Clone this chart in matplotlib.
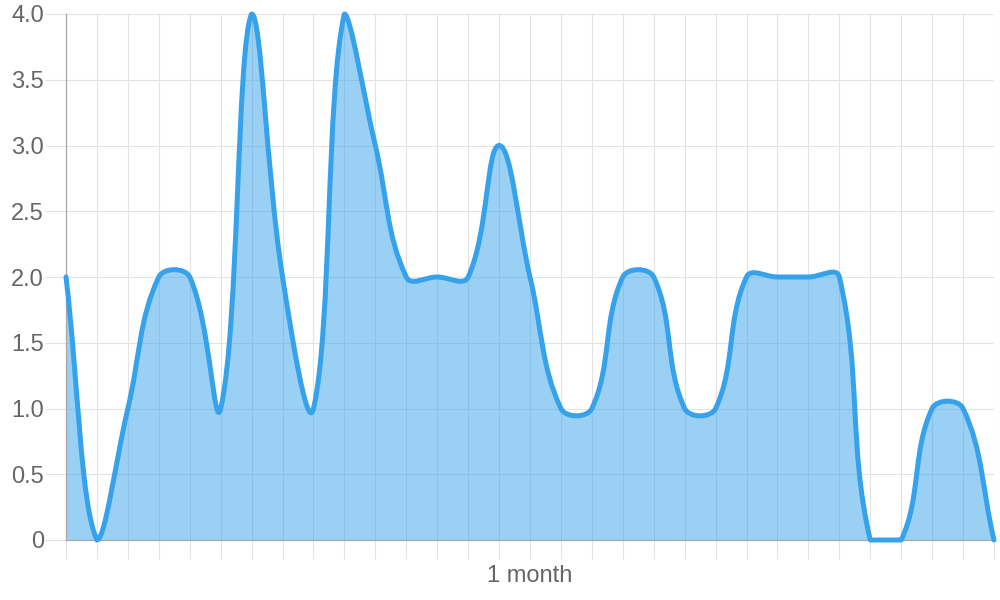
import numpy as np
import matplotlib
matplotlib.use("Agg")
import matplotlib.pyplot as plt
from matplotlib.path import Path
from matplotlib.patches import PathPatch

values = [2, 0, 1, 2, 2, 1, 4, 2, 1, 4, 3, 2, 2, 2, 3, 2, 1, 1, 2, 2, 1, 1, 2, 2, 2, 2, 0, 0, 1, 1, 0]
x_labels = [""] * 15 + ["1 month"] + [""] * 15
y_ticks = [0, 0.5, 1.0, 1.5, 2.0, 2.5, 3.0, 3.5, 4.0]
y_tick_labels = ["0", "0.5", "1.0", "1.5", "2.0", "2.5", "3.0", "3.5", "4.0"]

plt.rcParams['font.family'] = ['Liberation Sans', 'DejaVu Sans']

fig = plt.figure(figsize=(10, 6), dpi=100)
ax = fig.add_axes([66 / 1000, 60 / 600, 928 / 1000, 526 / 600])

n = len(values)
xs = np.arange(n, dtype=float)
ys = np.array(values, dtype=float)
xmin, xmax, ymin, ymax = 0, n - 1, 0, 4
ax.set_xlim(xmin, xmax)
ax.set_ylim(ymin, ymax)

# Chart.js-like spline (tension 0.4) computed in pixel-proportional space
sx = 928 / (n - 1)
sy = 526 / 4
t = 0.4
cp_prev = []
cp_next = []
for i in range(n):
    ip = max(i - 1, 0)
    inx = min(i + 1, n - 1)
    d01 = np.hypot((xs[i] - xs[ip]) * sx, (ys[i] - ys[ip]) * sy)
    d12 = np.hypot((xs[inx] - xs[i]) * sx, (ys[inx] - ys[i]) * sy)
    tot = d01 + d12
    s01 = d01 / tot if tot > 0 else 0
    s12 = d12 / tot if tot > 0 else 0
    fa, fb = t * s01, t * s12
    dx, dy = xs[inx] - xs[ip], ys[inx] - ys[ip]
    p = (np.clip(xs[i] - fa * dx, xmin, xmax), np.clip(ys[i] - fa * dy, ymin, ymax))
    q = (np.clip(xs[i] + fb * dx, xmin, xmax), np.clip(ys[i] + fb * dy, ymin, ymax))
    cp_prev.append(p)
    cp_next.append(q)

verts = [(xs[0], ys[0])]
codes = [Path.MOVETO]
for i in range(1, n):
    verts += [cp_next[i - 1], cp_prev[i], (xs[i], ys[i])]
    codes += [Path.CURVE4] * 3

line_path = Path(verts, codes)
fill_verts = verts + [(xs[-1], 0), (xs[0], 0), (xs[0], ys[0])]
fill_codes = codes + [Path.LINETO, Path.LINETO, Path.CLOSEPOLY]
fill_path = Path(fill_verts, fill_codes)

ax.add_patch(PathPatch(fill_path, facecolor=(54 / 255, 162 / 255, 235 / 255, 0.5), edgecolor='none', zorder=2))
ax.add_patch(PathPatch(line_path, facecolor='none', edgecolor='#36A2EB', lw=3.6,
                       joinstyle='round', capstyle='round', zorder=3, clip_on=False))

ax.set_xticks(xs)
ax.set_xticklabels(x_labels)
ax.set_yticks(y_ticks)
ax.set_yticklabels(y_tick_labels)

ax.grid(True, color='#E3E3E3', lw=0.8)
ax.set_axisbelow(True)
for s in ['top', 'right']:
    ax.spines[s].set_visible(False)
for s in ['left', 'bottom']:
    ax.spines[s].set_color('#A8A8A8')
    ax.spines[s].set_linewidth(0.9)
    ax.spines[s].set_zorder(2.5)

ax.tick_params(axis='y', length=15, width=0.8, color='#E3E3E3', pad=1, labelsize=17, labelcolor='#666666')
ax.tick_params(axis='x', length=14, width=0.8, color='#E3E3E3', pad=4, labelsize=17, labelcolor='#666666')
ax.get_xticklines()[0].set_color('#A8A8A8')

fig.savefig("out.png", dpi=100)
